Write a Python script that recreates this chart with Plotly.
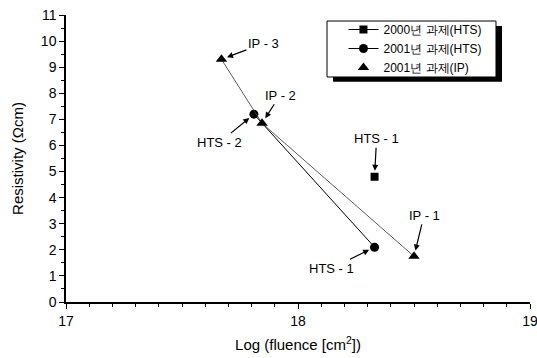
import plotly.graph_objects as go

# Resistivity vs. log fluence for the HTS and IP samples
hts2000_x = [18.33]
hts2000_y = [4.8]

hts2001_x = [17.81, 18.33]
hts2001_y = [7.2, 2.1]

ip2001_x = [17.67, 17.845, 18.50]
ip2001_y = [9.3, 6.85, 1.75]

series_names = ["2000년 과제(HTS)", "2001년 과제(HTS)", "2001년 과제(IP)"]

x_ticks = [17, 18, 19]
y_ticks = list(range(0, 12))

# point labels: (text, x, y, arrow dx, arrow dy in px from point to text)
point_labels = [
    ("IP - 3", ip2001_x[0], ip2001_y[0], 42, -16),
    ("IP - 2", ip2001_x[1], ip2001_y[1], 18, -28),
    ("HTS - 2", hts2001_x[0], hts2001_y[0], -34, 28),
    ("HTS - 1", hts2000_x[0], hts2000_y[0], 2, -38),
    ("IP - 1", ip2001_x[2], ip2001_y[2], 10, -41),
    ("HTS - 1", hts2001_x[1], hts2001_y[1], -43, 21),
]

FONT = "Liberation Sans, Arial, sans-serif"

fig = go.Figure()

fig.add_trace(go.Scatter(
    x=hts2000_x, y=hts2000_y, mode="lines+markers", name=series_names[0],
    line=dict(color="black", width=1),
    marker=dict(symbol="square", size=8, color="black"),
))
fig.add_trace(go.Scatter(
    x=hts2001_x, y=hts2001_y, mode="lines+markers", name=series_names[1],
    line=dict(color="black", width=1),
    marker=dict(symbol="circle", size=9, color="black"),
))
# connecting line for IP samples (legend shows markers only)
fig.add_trace(go.Scatter(
    x=ip2001_x, y=ip2001_y, mode="lines", showlegend=False,
    line=dict(color="#333333", width=0.8), hoverinfo="skip",
))
fig.add_trace(go.Scatter(
    x=ip2001_x, y=ip2001_y, mode="markers", name=series_names[2],
    marker=dict(symbol="triangle-up", size=10, color="black"),
))

for text, x, y, dx, dy in point_labels:
    fig.add_annotation(
        x=x, y=y, text=text, ax=dx, ay=dy,
        showarrow=True, arrowhead=2, arrowsize=1, arrowwidth=1.2,
        arrowcolor="black", standoff=6,
        font=dict(family=FONT, size=13, color="black"),
    )

# legend frame with an offset drop shadow
fig.add_shape(type="rect", xref="paper", yref="paper",
              x0=0.5754, x1=0.9397, y0=0.767, y1=0.962,
              fillcolor="black", line=dict(width=0), layer="below")
fig.add_shape(type="rect", xref="paper", yref="paper",
              x0=0.5625, x1=0.9267, y0=0.784, y1=0.979,
              fillcolor="white", line=dict(color="black", width=1), layer="below")

fig.update_layout(
    width=537, height=358,
    margin=dict(l=66, r=7, t=15, b=56),
    paper_bgcolor="white", plot_bgcolor="white",
    font=dict(family=FONT, size=14, color="black"),
    legend=dict(
        x=0.598, y=1.0, xanchor="left", yanchor="top",
        bgcolor="rgba(0,0,0,0)", borderwidth=0,
        font=dict(family=FONT, size=12, color="black"),
        tracegroupgap=0, itemsizing="trace",
    ),
    xaxis=dict(
        range=[17, 19], tickvals=x_ticks, ticktext=[str(v) for v in x_ticks],
        showgrid=False, zeroline=False, showline=True, linecolor="black", linewidth=1.5,
        ticks="outside", ticklen=5, tickcolor="black",
        minor=dict(dtick=0.1, ticks="outside", ticklen=3, tickcolor="black"),
        title=dict(text="Log (fluence [cm<sup>2</sup>])", standoff=12,
                   font=dict(family=FONT, size=15)),
        tickfont=dict(family=FONT, size=14),
        ticklabeloverflow="allow", automargin=False,
    ),
    yaxis=dict(
        range=[0, 11], tickvals=y_ticks, ticktext=[str(v) for v in y_ticks],
        showgrid=False, zeroline=False, showline=True, linecolor="black", linewidth=1.5,
        ticks="outside", ticklen=5, tickcolor="black",
        minor=dict(dtick=0.5, ticks="outside", ticklen=3, tickcolor="black"),
        title=dict(text="Resistivity (Ωcm)", standoff=14,
                   font=dict(family=FONT, size=15)),
        tickfont=dict(family=FONT, size=14),
        automargin=False,
    ),
)

fig.write_html("out.html")
